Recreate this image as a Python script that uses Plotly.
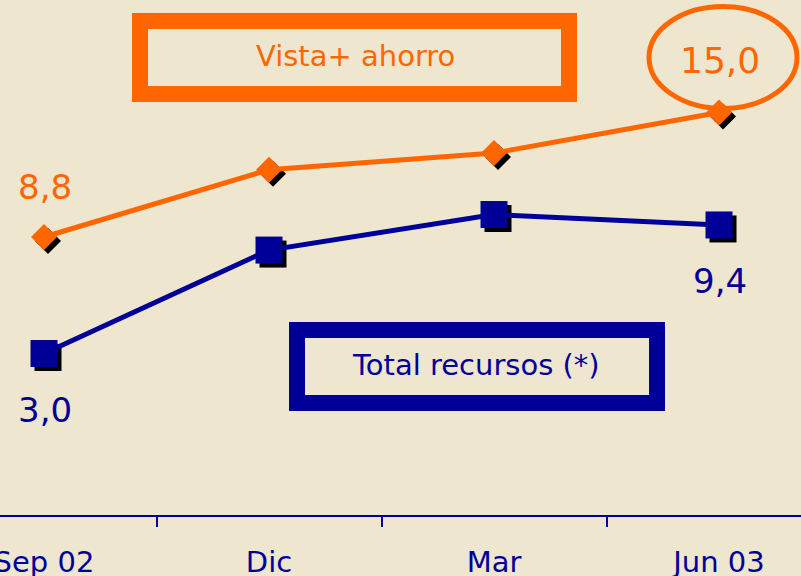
import plotly.graph_objects as go

# ---- data ----
categories = ["Sep 02", "Dic", "Mar", "Jun 03"]
vista_ahorro = [8.8, 12.15, 12.98, 15.0]
total_recursos = [3.0, 8.15, 9.92, 9.4]
vista_labels = {0: "8,8", 3: "15,0"}
total_labels = {0: "3,0", 3: "9,4"}
vista_name = "Vista+ ahorro"
total_name = "Total recursos (*)"

# ---- style ----
BG = "#EEE6CF"
ORANGE = "#FF6600"
NAVY = "#000099"
FONT = "DejaVu Sans"
W, H = 801, 576
MB = 61
PW, PH = W, H - MB
X_RANGE = [-0.1956, 3.3644]
Y_RANGE = [-5.04, 20.6]
px_x = PW / (X_RANGE[1] - X_RANGE[0])
px_y = PH / (Y_RANGE[1] - Y_RANGE[0])
SH = 4  # shadow offset in px
D_SIZE, S_SIZE = 20, 27

fig = go.Figure()

# shadows on the hidden base axes (shifted ranges), drawn underneath
for vals, sym, size in [(vista_ahorro, "diamond", D_SIZE), (total_recursos, "square", S_SIZE)]:
    fig.add_trace(go.Scatter(
        x=categories, y=vals, mode="markers", xaxis="x", yaxis="y",
        marker=dict(symbol=sym, size=size, color="black", line=dict(width=0)),
        hoverinfo="skip", showlegend=False,
    ))

fig.add_trace(go.Scatter(
    x=categories, y=vista_ahorro, mode="lines+markers", name=vista_name,
    xaxis="x2", yaxis="y2",
    line=dict(color=ORANGE, width=5),
    marker=dict(symbol="diamond", size=D_SIZE, color=ORANGE, line=dict(width=0)),
    showlegend=False,
))
fig.add_trace(go.Scatter(
    x=categories, y=total_recursos, mode="lines+markers", name=total_name,
    xaxis="x2", yaxis="y2",
    line=dict(color=NAVY, width=5),
    marker=dict(symbol="square", size=S_SIZE, color=NAVY, line=dict(width=0)),
    showlegend=False,
))

annotations = []
for i, t in vista_labels.items():
    annotations.append(dict(
        x=categories[i], y=vista_ahorro[i], xref="x2", yref="y2", text=t, showarrow=False,
        xanchor="center", yanchor="middle",
        yshift=50 if i == 0 else 52, xshift=1,
        font=dict(family=FONT, size=34 if i == 0 else 36, color=ORANGE),
    ))
for i, t in total_labels.items():
    annotations.append(dict(
        x=categories[i], y=total_recursos[i], xref="x2", yref="y2", text=t, showarrow=False,
        xanchor="center", yanchor="middle",
        yshift=-56, xshift=1,
        font=dict(family=FONT, size=34, color=NAVY),
    ))

def px2paper_x(p):
    return p / PW

def px2paper_y(p):
    return (PH - p) / PH

annotations.append(dict(
    x=px2paper_x(355), y=px2paper_y(56), xref="paper", yref="paper",
    xanchor="center", yanchor="middle",
    text=vista_name, showarrow=False,
    font=dict(family=FONT, size=29, color=ORANGE),
))
annotations.append(dict(
    x=px2paper_x(476), y=px2paper_y(365), xref="paper", yref="paper",
    xanchor="center", yanchor="middle",
    text=total_name, showarrow=False,
    font=dict(family=FONT, size=29, color=NAVY),
))

shapes = [
    dict(type="rect", xref="paper", yref="paper",
         x0=px2paper_x(140), x1=px2paper_x(569), y0=px2paper_y(21), y1=px2paper_y(94),
         line=dict(color=ORANGE, width=16), fillcolor="rgba(0,0,0,0)"),
    dict(type="rect", xref="paper", yref="paper",
         x0=px2paper_x(297), x1=px2paper_x(657), y0=px2paper_y(330), y1=px2paper_y(403),
         line=dict(color=NAVY, width=16), fillcolor="rgba(0,0,0,0)"),
    dict(type="circle", xref="x2", yref="y2", xsizemode="pixel", ysizemode="pixel",
         xanchor=3, yanchor=vista_ahorro[3],
         x0=-70, x1=78, y0=4, y1=106,
         line=dict(color=ORANGE, width=5)),
]

fig.update_layout(
    width=W, height=H,
    margin=dict(l=0, r=0, t=0, b=MB, pad=0, autoexpand=False),
    paper_bgcolor=BG, plot_bgcolor=BG,
    showlegend=False,
    annotations=annotations,
    shapes=shapes,
    xaxis=dict(
        type="category", categoryorder="array", categoryarray=categories,
        visible=False, showgrid=False, zeroline=False, automargin=False,
        range=[X_RANGE[0] - SH / px_x, X_RANGE[1] - SH / px_x],
    ),
    yaxis=dict(
        visible=False, showgrid=False, zeroline=False, automargin=False,
        range=[Y_RANGE[0] + SH / px_y, Y_RANGE[1] + SH / px_y],
    ),
    xaxis2=dict(
        type="category", categoryorder="array", categoryarray=categories,
        overlaying="x", anchor="y2", side="bottom", automargin=False,
        range=X_RANGE, showgrid=False, zeroline=False,
        showline=True, linecolor=NAVY, linewidth=1.5,
        ticks="outside", tickson="boundaries", ticklen=10, tickwidth=1.5, tickcolor=NAVY,
        tickfont=dict(family=FONT, size=29, color=NAVY),
        ticklabelstandoff=20,
    ),
    yaxis2=dict(
        overlaying="y", anchor="x2", visible=False, showgrid=False, zeroline=False,
        automargin=False, range=Y_RANGE,
    ),
)

fig.write_html(
    "out.html",
    config={"displayModeBar": False},
    post_script="document.body.style.margin='0';document.body.style.padding='0';",
)
